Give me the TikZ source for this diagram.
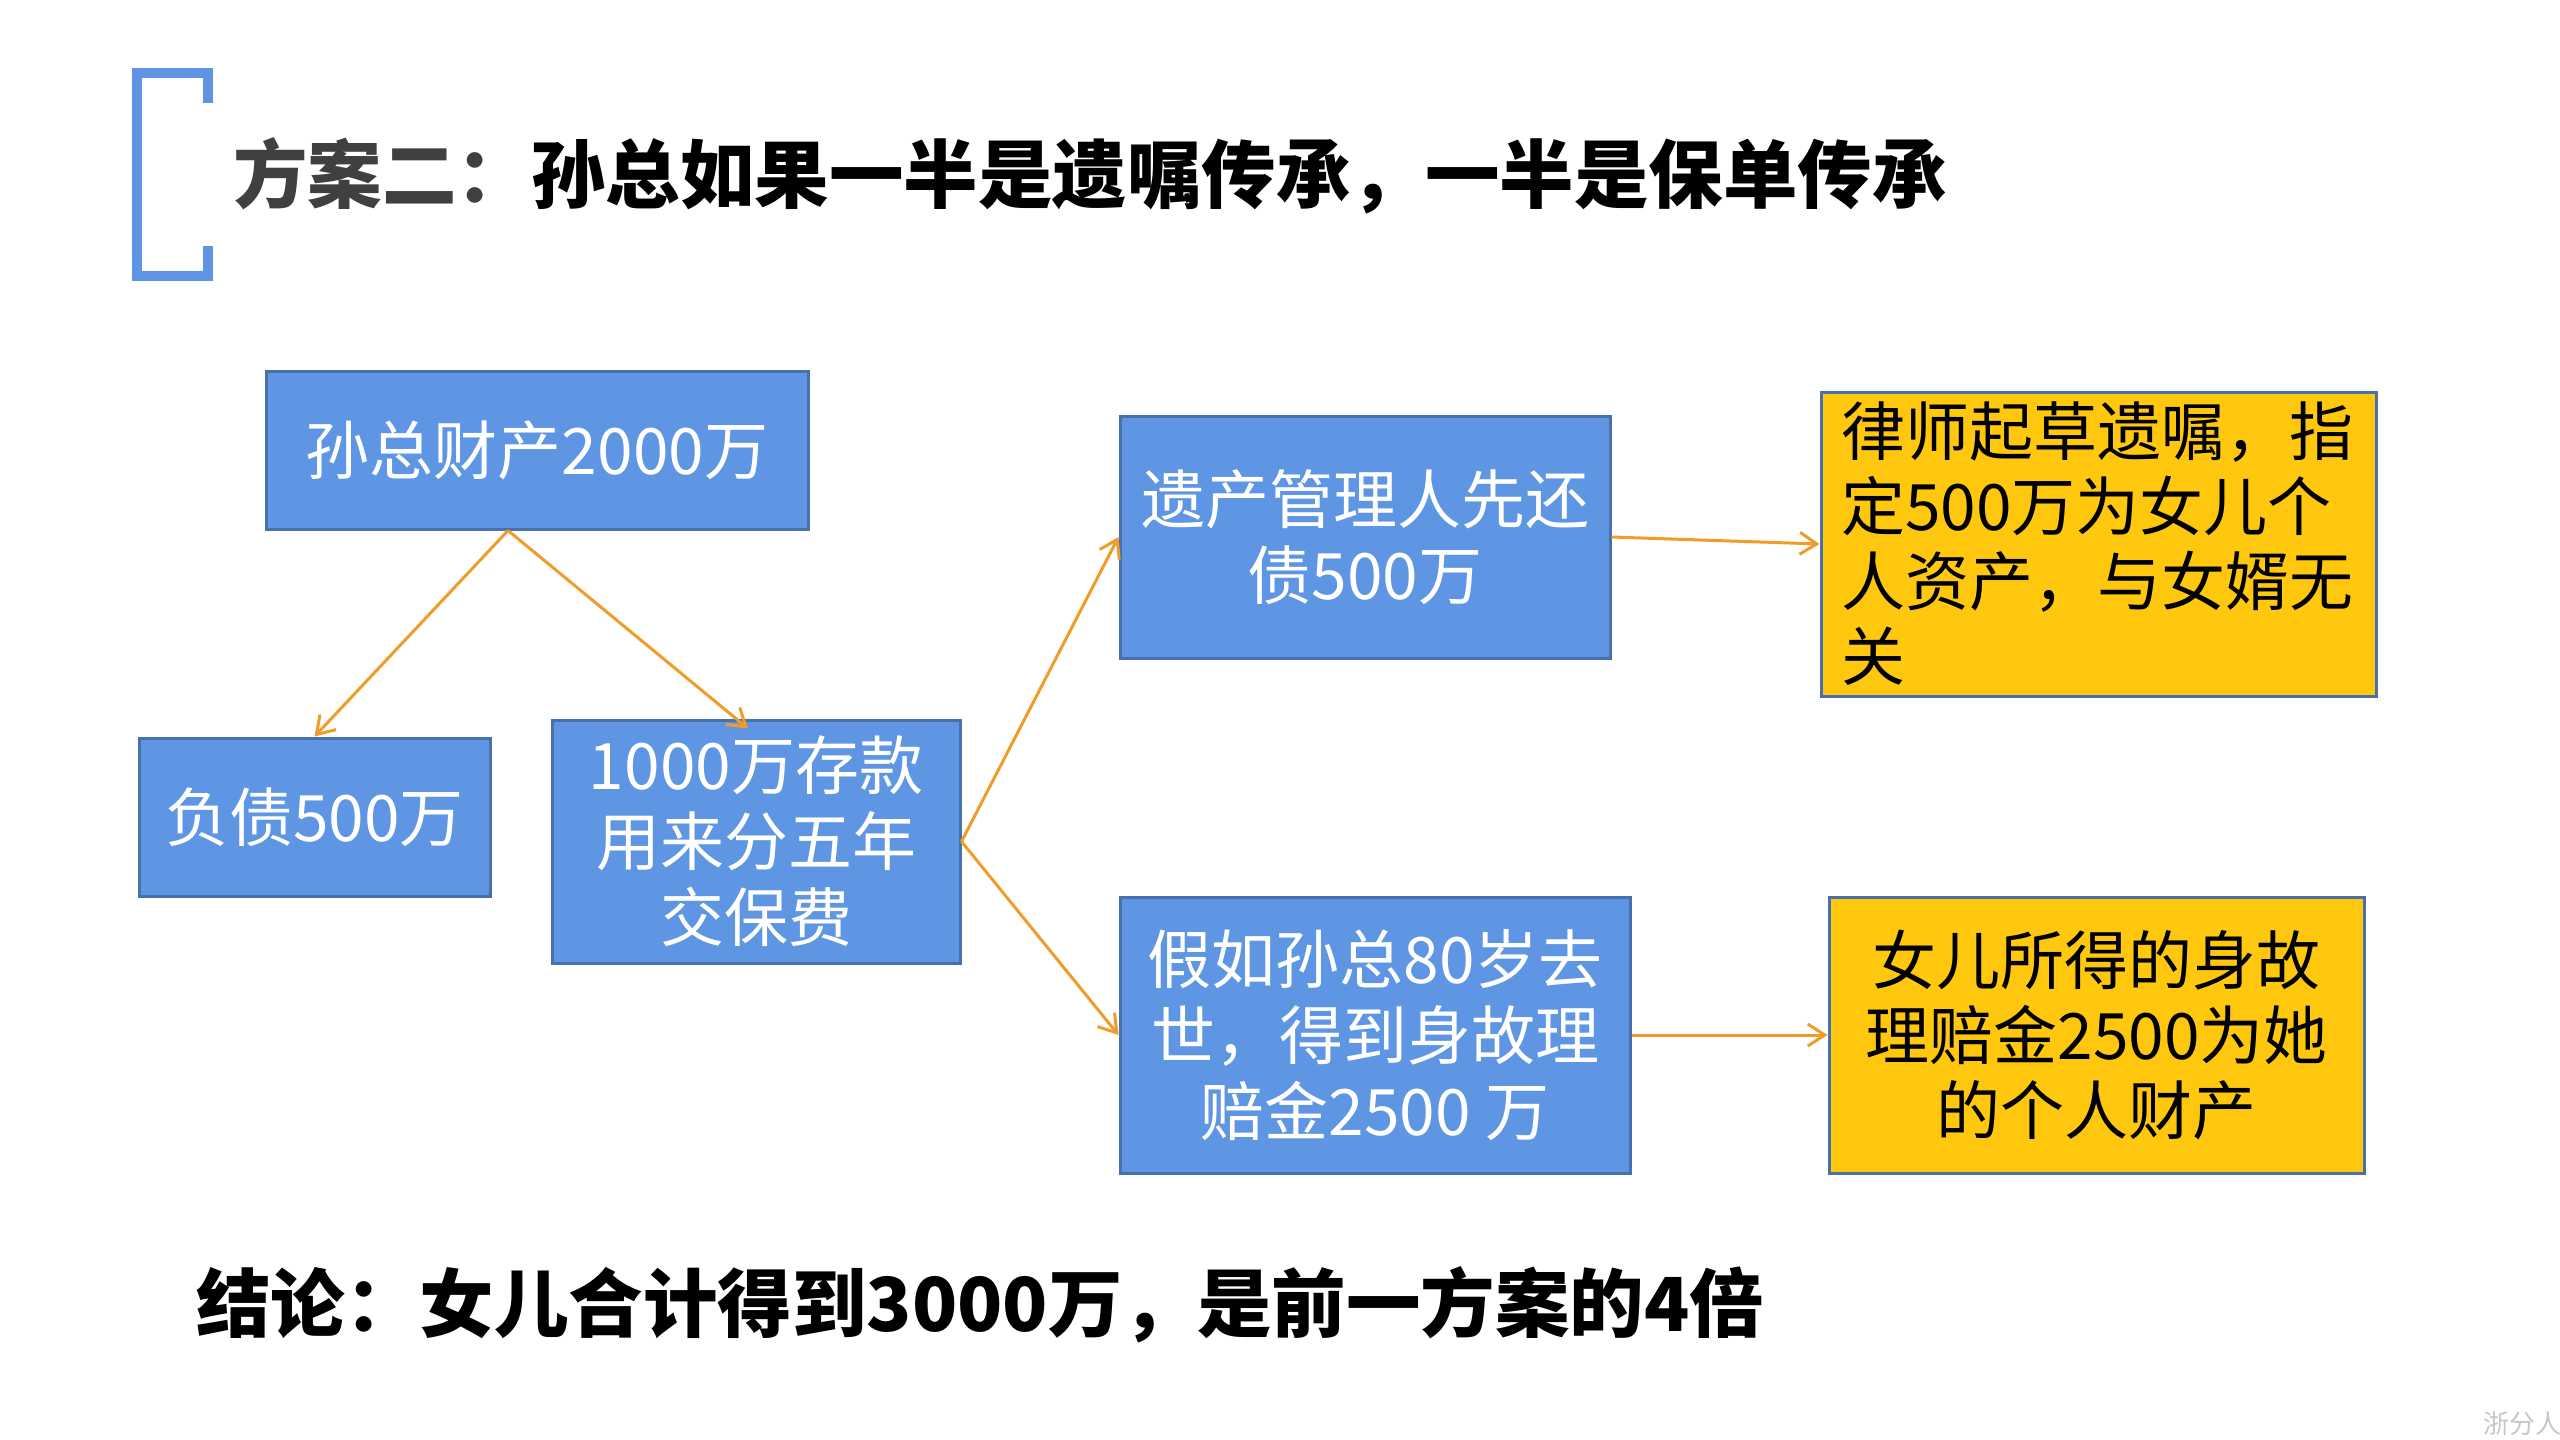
\documentclass[tikz,border=0pt]{standalone}
\usepackage{fontspec}
\setmainfont{Noto Sans CJK SC}
\usetikzlibrary{arrows.meta,calc}
\definecolor{boxblue}{RGB}{95,150,228}
\definecolor{boxedge}{RGB}{72,112,170}
\definecolor{boxyellow}{RGB}{255,200,15}
\definecolor{arrorange}{RGB}{240,156,40}
\definecolor{brackblue}{RGB}{95,148,228}
\definecolor{titlegray}{RGB}{64,64,64}
\tikzset{
  bluebox/.style={draw=boxedge, line width=3pt, fill=boxblue, text=white,
    inner sep=0pt, align=center,
    font=\fontsize{64}{76}\selectfont},
  yellowbox/.style={draw=boxedge, line width=3pt, fill=boxyellow, text=black,
    inner sep=0pt, font=\fontsize{64}{75}\selectfont},
  arr/.style={draw=arrorange, line width=3pt,
    -{Straight Barb[length=17pt,width=22pt]}},
  titletext/.style={anchor=west, inner sep=0pt,
    font=\fontsize{74.5}{80}\selectfont\bfseries},
}
\begin{document}
\begin{tikzpicture}[x=1pt,y=-1pt]
\useasboundingbox[fill=white] (0,0) rectangle (2560,1440);

% bracket
\draw[brackblue, line width=10pt, line join=miter, line cap=butt]
  (207.5,103) -- (207.5,73) -- (137,73) -- (137,276) -- (207.5,276) -- (207.5,246);

% title
\node[titletext] (title) at (233,176)
  {{\color{titlegray}方案二：}孙总如果一半是遗嘱传承，一半是保单传承};

% boxes
\node[bluebox, minimum width=542pt, minimum height=158pt] (A) at (537,450)
  {孙总财产2000万};
\node[bluebox, minimum width=351pt, minimum height=158pt] (B) at (314.5,817)
  {负债500万};
\node[bluebox, minimum width=408pt, minimum height=243pt] (C) at (756,841.5)
  {1000万存款\\用来分五年\\交保费};
\node[bluebox, minimum width=490pt, minimum height=242pt] (D) at (1365,537)
  {遗产管理人先还\\债500万};
\node[yellowbox, minimum width=555pt, minimum height=304pt,
      text width=515pt, align=left, inner xsep=20pt] (E) at (2098.5,544)
  {律师起草遗嘱，指\\定500万为女儿个\\人资产，与女婿无\\关};
\node[bluebox, minimum width=510pt, minimum height=276pt] (F) at (1375,1035)
  {假如孙总80岁去\\世，得到身故理\\赔金2500 万};
\node[yellowbox, minimum width=535pt, minimum height=276pt, align=center] (G) at (2096.5,1035)
  {女儿所得的身故\\理赔金2500为她\\的个人财产};

% connectors
\coordinate (Asrc) at ($(A.south)+(-29,0)$);
\coordinate (Cin) at ($(C.north)+(-8,10)$);
\draw[arr] (Asrc) -- (B.north);
\draw[arr] (Asrc) -- (Cin);
\draw[arr] (C.east) -- (D.west);
\draw[arr] (C.east) -- (F.west);
\draw[arr] (D.east) -- (E.west);
\draw[arr] (F.east) -- (G.west);

% conclusion
\node[titletext, text=black] (concl) at (196,1305)
  {结论：女儿合计得到3000万，是前一方案的4倍};

% watermark
\node[anchor=east, inner sep=0pt, text=black!22,
      font=\fontsize{26}{28}\selectfont] (wm) at (2562,1424) {浙分人};
\end{tikzpicture}
\end{document}
